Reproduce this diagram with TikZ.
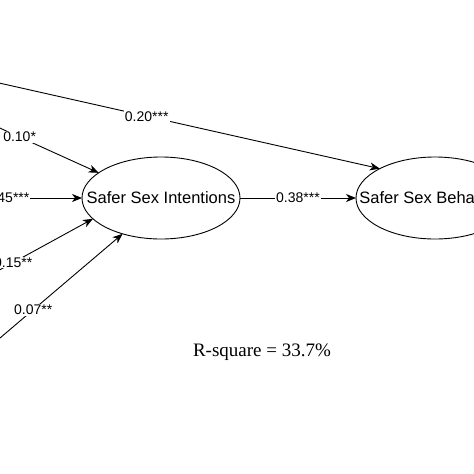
\documentclass[tikz,border=0pt]{standalone}
\usepackage{fontspec}
\setmainfont{Liberation Sans}
\newfontfamily\serifface{Liberation Serif}
\usetikzlibrary{positioning, arrows.meta, shapes.geometric}

\begin{document}
\begin{tikzpicture}[
  x=1pt, y=-1pt,
  lat/.style={draw, ellipse, line width=0.9pt, minimum width=158pt,
    minimum height=82pt, inner xsep=-22pt, inner ysep=0pt, outer sep=0pt,
    font=\fontsize{16.5}{19}\selectfont},
  coef/.style={fill=white, inner sep=1pt, font=\fontsize{14}{16}\selectfont},
  link/.style={line width=0.9pt, -{Stealth[length=10pt, width=8pt, inset=3pt]}},
]
  \useasboundingbox (0,0) rectangle (474,474);
  \clip (0,0) rectangle (474,474);

  % Latent variables
  \node[lat] (int) at (161,198) {Safer Sex Intentions};
  \node[lat, right=116pt of int] (beh) {Safer Sex Behaviour};

  % Predictors (outside the visible frame)
  \coordinate (src20) at (-60,69.7);
  \coordinate (src10) at (-40,110);
  \coordinate (src45) at (-40,198);
  \coordinate (src15) at (-40,291.6);
  \coordinate (src07) at (-40,372);

  % Paths
  \draw[link] (src20) -- node[coef, pos=0.47] {0.20***} (beh.152);
  \draw[link] (src10) -- node[coef, pos=0.43] {0.10*} (int.158);
  \draw[link] (src45) -- node[coef, pos=0.39] {0.45***} (int.west);
  \draw[link] (src15) -- node[coef, pos=0.40] {0.15**} (int.197);
  \draw[link] (src07) -- node[coef, pos=0.45] {0.07**} (int.223);
  \draw[link] (int) -- node[coef] {0.38***} (beh);

  \node[font=\serifface\fontsize{19}{22}\selectfont] (rsq) at (262,352)
    {R-square = 33.7\%};
\end{tikzpicture}
\end{document}
